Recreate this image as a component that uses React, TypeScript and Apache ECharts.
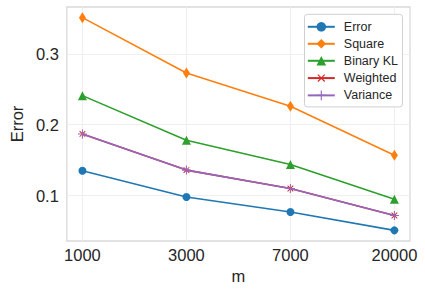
import React, { useEffect, useRef } from "react";
import * as echarts from "echarts";

const categories = ["1000", "3000", "7000", "20000"];
const errorVals = [0.135, 0.098, 0.077, 0.051];
const squareVals = [0.351, 0.273, 0.226, 0.157];
const binaryKLVals = [0.241, 0.178, 0.144, 0.095];
const weightedVals = [0.187, 0.136, 0.110, 0.072];
const varianceVals = [0.187, 0.136, 0.110, 0.072];
const yTicks = [0.1, 0.2, 0.3];

const PLUS = "path://M4.4,0H5.6V4.4H10V5.6H5.6V10H4.4V5.6H0V4.4H4.4Z";

export default function App() {
  const ref = useRef<HTMLDivElement>(null);
  useEffect(() => {
    document.body.style.margin = "0";
    const chart = echarts.init(ref.current!, null, { renderer: "svg" });
    const idx = categories.map((_, i) => i);
    const mk = (vals: number[]) => vals.map((v, i) => [i, v]);
    const font = "Liberation Sans, Arial, sans-serif";
    const line = (name: string, vals: number[], color: string, symbol: string, size: any, extra: any = {}) => ({
      name,
      type: "line",
      data: mk(vals),
      symbol,
      symbolSize: size,
      showSymbol: true,
      lineStyle: { color, width: 1.6 },
      itemStyle: { color },
      z: 2,
      ...extra,
    });
    chart.setOption({
      animation: false,
      backgroundColor: "#ffffff",
      textStyle: { fontFamily: font },
      grid: {
        left: 58,
        right: 15,
        top: 7,
        bottom: 50,
        show: true,
        borderColor: "#d9d9d9",
        borderWidth: 1.3,
        backgroundColor: "#ffffff",
      },
      legend: {
        orient: "vertical",
        right: 22.5,
        top: 14.3,
        itemWidth: 27,
        itemHeight: 12,
        itemGap: 4,
        padding: [6, 4.5, 5, 2.3],
        backgroundColor: "#ffffff",
        borderColor: "#d0d0d0",
        borderWidth: 1,
        borderRadius: 3,
        textStyle: { fontSize: 12.5, color: "#262626", fontFamily: font, padding: [0, 0, 0, 4] },
        data: ["Error", "Square", "Binary KL", "Weighted", "Variance"],
      },
      xAxis: {
        type: "value",
        min: -0.15,
        max: 3.15,
        name: "m",
        nameLocation: "middle",
        nameGap: 26,
        nameTextStyle: { fontSize: 16.5, color: "#262626", fontFamily: font },
        axisLine: { show: false },
        axisTick: { show: false, customValues: idx },
        axisLabel: {
          customValues: idx,
          formatter: (v: number) => categories[Math.round(v)] ?? "",
          fontSize: 16.5,
          color: "#262626",
          margin: 5,
          fontFamily: font,
        },
        splitLine: { show: true, lineStyle: { color: "#efefef", width: 1 } },
      },
      yAxis: {
        type: "value",
        min: 0.036,
        max: 0.366,
        name: "Error",
        nameLocation: "middle",
        nameGap: 35,
        nameTextStyle: { fontSize: 16.5, color: "#262626", fontFamily: font },
        axisLine: { show: false },
        axisTick: { show: false, customValues: yTicks },
        axisLabel: {
          customValues: yTicks,
          formatter: (v: number) => v.toFixed(1),
          fontSize: 16.5,
          color: "#262626",
          margin: 8,
          fontFamily: font,
        },
        splitLine: { show: true, lineStyle: { color: "#efefef", width: 1 } },
      },
      series: [
        line("Error", errorVals, "#1f77b4", "circle", 8),
        line("Square", squareVals, "#ff7f0e", "diamond", [7, 11]),
        line("Binary KL", binaryKLVals, "#2ca02c", "triangle", 9),
        line("Weighted", weightedVals, "#d62728", PLUS, 8, { symbolRotate: 45 }),
        line("Variance", varianceVals, "#9467bd", PLUS, 9, { z: 3 }),
      ],
    });
    return () => chart.dispose();
  }, []);
  return <div ref={ref} style={{ width: 425, height: 291 }} />;
}
